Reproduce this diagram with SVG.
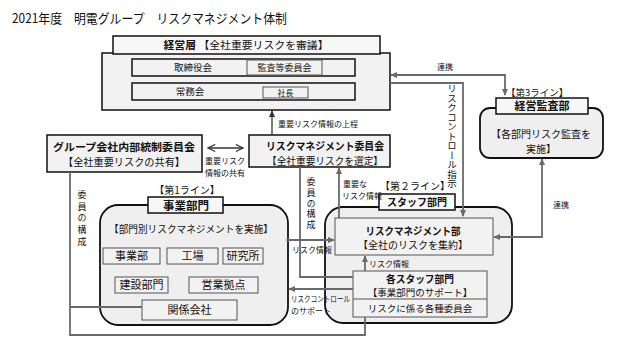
<svg xmlns="http://www.w3.org/2000/svg" width="620" height="348" viewBox="0 0 620 348">
<style>
text{font-family:"Noto Sans CJK JP","Noto Sans",sans-serif;fill:#111}
.t{font-size:13px}
.b{font-weight:bold}
.c{text-anchor:middle}
.box{fill:#f2f2f2;stroke:#111;stroke-width:1.5}
.hdr{fill:#f7f7f7;stroke:#111;stroke-width:1.5}
.in{fill:#f2f2f2;stroke:#555;stroke-width:1}
.big{fill:#efefef;stroke:#111;stroke-width:1.8}
.ln{fill:none;stroke:#6a6a6a;stroke-width:1.8}
.dk{fill:none;stroke:#333;stroke-width:1.3}
.s{font-size:8px}
.vt{writing-mode:vertical-rl}
</style>
<defs>
<marker id="a" viewBox="0 0 8 8" refX="7" refY="4" markerWidth="7" markerHeight="7" markerUnits="userSpaceOnUse" orient="auto-start-reverse"><path d="M0,0.5 L8,4 L0,7.5z" fill="#6a6a6a"/></marker>
<marker id="k" viewBox="0 0 8 8" refX="7" refY="4" markerWidth="7" markerHeight="7" markerUnits="userSpaceOnUse" orient="auto-start-reverse"><path d="M0,0.5 L8,4 L0,7.5z" fill="#333"/></marker>
<marker id="o" viewBox="0 0 10 10" refX="9" refY="5" markerWidth="9" markerHeight="9" markerUnits="userSpaceOnUse" orient="auto-start-reverse"><path d="M1,1 L9,5 L1,9" fill="none" stroke="#333" stroke-width="1.3"/></marker>
</defs>

<text class="t" x="12" y="23" textLength="275" lengthAdjust="spacingAndGlyphs">2021年度　明電グループ　リスクマネジメント体制</text>

<g id="keiei">
<rect class="box" x="102" y="53" width="288" height="57"/>
<rect class="hdr" x="113" y="36" width="267" height="18"/>
<text class="c" x="246" y="49" style="font-size:10.5px" textLength="165" lengthAdjust="spacingAndGlyphs"><tspan class="b">経営層</tspan> 【全社重要リスクを審議】</text>
<rect class="box" x="132" y="59" width="223" height="17"/>
<rect class="in" x="247" y="60" width="75" height="15"/>
<text class="c" x="193" y="71" style="font-size:9.5px">取締役会</text>
<text class="c" x="284.5" y="71" style="font-size:9px">監査等委員会</text>
<rect class="box" x="132" y="83" width="223" height="17"/>
<rect class="in" x="263" y="87" width="45" height="11"/>
<text class="c" x="190" y="95" style="font-size:9.5px">常務会</text>
<text class="c" x="285.5" y="96" style="font-size:8px">社長</text>
</g>

<g id="kansa">
<rect class="big" x="480" y="108" width="123" height="50" rx="10"/>
<rect class="hdr" x="496" y="98" width="92" height="16"/>
<text class="b c" x="542" y="110" style="font-size:11px">経営監査部</text>
<text x="506" y="95.5" style="font-size:9.5px">【第3ライン】</text>
<text class="c" x="541" y="138" style="font-size:10px">【各部門リスク監査を</text>
<text class="c" x="541" y="152.5" style="font-size:10px">実施】</text>
</g>

<g id="rm-iinkai">
<rect class="box" x="249" y="135" width="141" height="32"/>
<text class="b c" x="325" y="150" style="font-size:10.5px" textLength="118" lengthAdjust="spacingAndGlyphs">リスクマネジメント委員会</text>
<text class="c" x="325" y="164.5" style="font-size:10px" textLength="116" lengthAdjust="spacingAndGlyphs">【全社重要リスクを選定】</text>
</g>

<g id="group-iinkai">
<rect class="box" x="47" y="135" width="155" height="37"/>
<text class="b c" x="124" y="150.5" style="font-size:10.5px" textLength="142" lengthAdjust="spacingAndGlyphs">グループ会社内部統制委員会</text>
<text class="c" x="124" y="166" style="font-size:10.5px" textLength="122" lengthAdjust="spacingAndGlyphs">【全社重要リスクの共有】</text>
</g>

<g id="jigyo">
<rect class="big" x="100" y="205" width="188" height="120" rx="18"/>
<rect class="hdr" x="148" y="197" width="75" height="16"/>
<text class="b c" x="186" y="209.5" style="font-size:11.5px">事業部門</text>
<text class="c" x="187" y="193.5" style="font-size:10px">【第1ライン】</text>
<text class="c" x="191" y="233" style="font-size:10px" textLength="164" lengthAdjust="spacingAndGlyphs">【部門別リスクマネジメントを実施】</text>
<rect class="in" x="103" y="248" width="57" height="16"/>
<text class="c" x="131.5" y="260" style="font-size:11px">事業部</text>
<rect class="in" x="167" y="248" width="51" height="16"/>
<text class="c" x="192.5" y="260" style="font-size:11px">工場</text>
<rect class="in" x="223" y="248" width="40" height="16"/>
<text class="c" x="243" y="260" style="font-size:11px">研究所</text>
<rect class="in" x="115" y="277" width="53" height="16"/>
<text class="c" x="141.5" y="289" style="font-size:11px">建設部門</text>
<rect class="in" x="189" y="277" width="69" height="16"/>
<text class="c" x="223.5" y="289" style="font-size:11px">営業拠点</text>
<rect class="in" x="142" y="300" width="95" height="20"/>
<text class="c" x="189.5" y="314" style="font-size:11px">関係会社</text>
</g>

<g id="staff">
<rect class="big" x="325" y="207" width="187" height="116" rx="18"/>
<rect class="hdr" x="379" y="194" width="76" height="16"/>
<text class="b c" x="417" y="206" style="font-size:10.5px" textLength="60" lengthAdjust="spacingAndGlyphs">スタッフ部門</text>
<text class="c" x="415" y="190" style="font-size:10px">【第２ライン】</text>
<rect class="in" x="335" y="218" width="158" height="37"/>
<text class="b c" x="413" y="234.5" style="font-size:10.5px" textLength="95" lengthAdjust="spacingAndGlyphs">リスクマネジメント部</text>
<text class="c" x="413" y="249" style="font-size:10px">【全社のリスクを集約】</text>
<rect class="in" x="353" y="271" width="134" height="46"/>
<path d="M353,299 H487" stroke="#555" stroke-width="1"/>
<text class="b c" x="420" y="283" style="font-size:10.5px" textLength="68" lengthAdjust="spacingAndGlyphs">各スタッフ部門</text>
<text class="c" x="420" y="296" style="font-size:9.5px">【事業部門のサポート】</text>
<text class="c" x="420" y="312" style="font-size:9.5px">リスクに係る各種委員会</text>
</g>

<g id="connectors">
<path class="ln" d="M391,75 H505 V95" marker-start="url(#a)" marker-end="url(#a)"/>
<text class="s c" x="445" y="70">連携</text>
<path class="ln" d="M390,83 H463 V216" marker-end="url(#a)"/>
<text class="vt" x="452" y="84" style="font-size:9.5px">リスクコントロール指示</text>
<path class="dk" d="M272,135 V111" marker-end="url(#k)"/>
<text class="s" x="278" y="127">重要リスク情報の上程</text>
<path class="dk" d="M208,148 H243" marker-start="url(#o)" marker-end="url(#o)"/>
<text class="s" x="205" y="164">重要リスク</text>
<text class="s" x="205" y="176">情報の共有</text>
<path class="ln" d="M70,172 V335 H365 V317"/>
<path class="ln" d="M70,307 H142"/>
<text class="vt" x="82" y="190" style="font-size:9px;letter-spacing:2.7px">委員の構成</text>
<path class="ln" d="M300,167 V277 H353"/>
<text class="vt" x="311" y="177" style="font-size:9px;letter-spacing:1.8px">委員の構成</text>
<path class="ln" d="M339,218 V168" marker-end="url(#a)"/>
<text class="s" x="343" y="187">重要な</text>
<text class="s" x="342" y="199">リスク情報</text>
<path class="ln" d="M288,240 H334" marker-end="url(#a)"/>
<circle cx="288" cy="240" r="1.8" fill="#6a6a6a"/>
<text class="s" x="292" y="253">リスク情報</text>
<path class="ln" d="M353,289 H289" marker-end="url(#a)"/>
<text class="s" x="291" y="302" textLength="59" lengthAdjust="spacingAndGlyphs">リスクコントロール</text>
<text class="s" x="291" y="314">のサポート</text>
<path class="ln" d="M365,271 V256" marker-end="url(#a)"/>
<text class="s" x="369" y="267">リスク情報</text>
<path class="ln" d="M494,237 H542 V159" marker-start="url(#a)" marker-end="url(#a)"/>
<text class="s" x="553" y="208">連携</text>
</g>
</svg>
